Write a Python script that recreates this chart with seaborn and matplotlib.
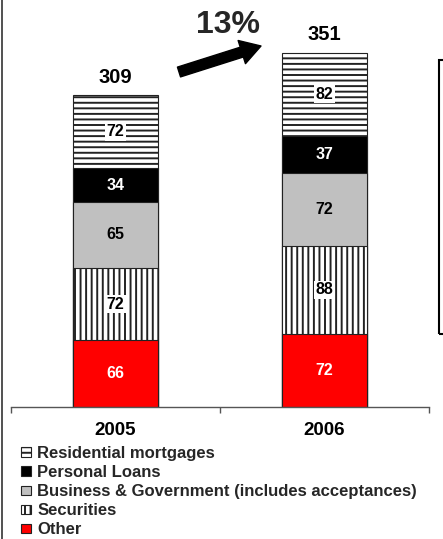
import matplotlib
matplotlib.use("Agg")
import matplotlib.pyplot as plt
import seaborn as sns
from matplotlib.patches import Patch, Rectangle
from matplotlib.lines import Line2D

# ---- data (billions) ----
years = ["2005", "2006"]
other = [66, 72]
securities = [72, 88]
business = [65, 72]
personal = [34, 37]
residential = [72, 82]
growth_label = "13%"

sns.set_theme(style="white")
plt.rcParams["font.family"] = ["Liberation Sans", "DejaVu Sans"]
plt.rcParams["font.weight"] = "bold"
plt.rcParams["hatch.linewidth"] = 1.4

W, H = 443, 539
fig = plt.figure(figsize=(W / 100, H / 100), dpi=100)
ax = fig.add_axes([11 / W, (H - 407) / H, 418 / W, 407 / H])

# stack order from bottom to top: (label, values, face, hatch, text colour, text box)
layers = [
    ("Other", other, "#ff0000", "", "white", False),
    ("Securities", securities, "white", "|||", "black", True),
    ("Business & Government (includes acceptances)", business, "#c0c0c0", "", "black", False),
    ("Personal Loans", personal, "black", "", "white", False),
    ("Residential mortgages", residential, "white", "---", "black", True),
]

edge = "#222222"
bottoms = [0] * len(years)
stack = []
for name, vals, face, hatch, tcol, boxed in layers:
    tops = [b + v for b, v in zip(bottoms, vals)]
    stack.append((name, vals, bottoms, tops, face, hatch, tcol, boxed))
    bottoms = tops
totals = bottoms

# draw cumulative bars from the tallest down so each lower layer sits on top
for name, vals, bots, tops, face, hatch, tcol, boxed in reversed(stack):
    sns.barplot(x=years, y=tops, color=face, saturation=1, width=0.407,
                edgecolor=edge, linewidth=0.8, hatch=hatch, ax=ax)

# segment value labels
for name, vals, bots, tops, face, hatch, tcol, boxed in stack:
    for i, (b, v) in enumerate(zip(bots, vals)):
        kw = {}
        if boxed:
            kw["bbox"] = dict(facecolor="white", edgecolor="none", pad=1.0)
        ax.text(i, b + v / 2, f"{v}", ha="center", va="center",
                fontsize=11.5, fontweight="bold", color=tcol, **kw)

# totals above bars
for i, t in enumerate(totals):
    ax.text(i, t + 18, f"{t}", ha="center", va="center",
            fontsize=14.5, fontweight="bold", color="black")

ax.set_xlim(-0.5, 1.5)
ax.set_ylim(0, 403.4)
ax.set_xlabel("")
ax.set_ylabel("")
ax.set_yticks([])
for s in ["left", "right", "top"]:
    ax.spines[s].set_visible(False)
ax.spines["bottom"].set_color("#555555")
ax.spines["bottom"].set_linewidth(1.0)
ax.set_xticks([0, 1])
ax.set_xticklabels(years, fontsize=13.5, fontweight="bold")
ax.set_xticks([-0.5, 0.5, 1.5], minor=True)
ax.tick_params(axis="x", which="major", length=0, pad=11, colors="black")
ax.tick_params(axis="x", which="minor", bottom=True, length=4.3, width=1.0,
               color="#555555", direction="out")
ax.patch.set_alpha(0)

# growth arrow and percentage
ax.annotate("", xy=(261, H - 46), xycoords="figure pixels",
            xytext=(179, H - 72), textcoords="figure pixels",
            arrowprops=dict(arrowstyle="simple,head_length=14.5,head_width=17.5,tail_width=7.4",
                            mutation_scale=1, color="black", shrinkA=0, shrinkB=0),
            annotation_clip=False)
fig.text(228 / W, 1 - 25 / H, growth_label, ha="center", va="center",
         fontsize=23, fontweight="bold")

# page frame pieces
fig.add_artist(Line2D([1.5 / W, 1.5 / W], [0, 1], transform=fig.transFigure,
                      color="#333333", lw=1.2))
fig.add_artist(Rectangle((439 / W, (H - 333.5) / H), 20 / W, 273 / H,
                         transform=fig.transFigure, fill=False,
                         edgecolor="black", lw=1.5))

# legend
handles = []
labels = []
for name, vals, bots, tops, face, hatch, tcol, boxed in reversed(stack):
    handles.append(Patch(facecolor=face, edgecolor=edge, hatch=hatch, lw=0.8))
    labels.append(name)
fig.legend(handles, labels, loc="upper left", bbox_to_anchor=(20.7 / W, 1 - 446 / H),
           frameon=False, prop=dict(size=12, weight="bold"),
           handlelength=0.6, handleheight=0.5, handletextpad=0.4,
           labelspacing=0.245, borderpad=0, borderaxespad=0)

fig.savefig("out.png", dpi=100)
